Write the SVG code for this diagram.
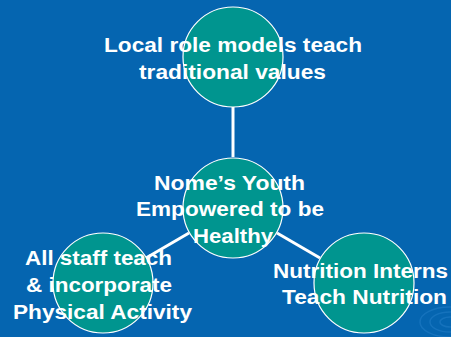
<svg xmlns="http://www.w3.org/2000/svg" width="451" height="337" viewBox="0 0 451 337">
<style>
.node{fill:#00958f;stroke:#ffffff;stroke-width:1.2}
.lbl{font-family:"Liberation Sans",Arial,sans-serif;font-weight:bold;font-size:20px;fill:#ffffff;text-anchor:middle}
.conn{stroke:#ffffff;stroke-width:3;fill:none}
.rip{fill:none;stroke:#1f7cc4;stroke-width:1.5;opacity:0.6}
</style>
<rect x="0" y="0" width="451" height="337" fill="#0565b0"/>
<g id="ripples">
<ellipse class="rip" cx="450" cy="322" rx="10" ry="5"/>
<ellipse class="rip" cx="450" cy="322" rx="20" ry="10"/>
<ellipse class="rip" cx="450" cy="322" rx="30" ry="15"/>
</g>
<g id="connectors">
<line class="conn" x1="233" y1="107" x2="233" y2="157"/>
<line class="conn" x1="189" y1="233" x2="146" y2="258"/>
<line class="conn" x1="277" y1="233" x2="320" y2="258"/>
</g>
<g id="top">
<circle class="node" cx="233" cy="57" r="50"/>
<text class="lbl" x="233" y="52" textLength="258" lengthAdjust="spacingAndGlyphs">Local role models teach</text>
<text class="lbl" x="232.5" y="79" textLength="187" lengthAdjust="spacingAndGlyphs">traditional values</text>
</g>
<g id="center">
<circle class="node" cx="233" cy="208" r="50"/>
<text class="lbl" x="229.5" y="190" textLength="151" lengthAdjust="spacingAndGlyphs">Nome’s Youth</text>
<text class="lbl" x="230" y="216" textLength="188" lengthAdjust="spacingAndGlyphs">Empowered to be</text>
<text class="lbl" x="233" y="243" textLength="80" lengthAdjust="spacingAndGlyphs">Healthy</text>
</g>
<g id="left">
<circle class="node" cx="103" cy="283" r="50"/>
<text class="lbl" x="98.5" y="265" textLength="147" lengthAdjust="spacingAndGlyphs">All staff teach</text>
<text class="lbl" x="99" y="292" textLength="146" lengthAdjust="spacingAndGlyphs">&amp; incorporate</text>
<text class="lbl" x="102.5" y="319" textLength="179" lengthAdjust="spacingAndGlyphs">Physical Activity</text>
</g>
<g id="right">
<circle class="node" cx="364" cy="283" r="50"/>
<text class="lbl" x="360.5" y="278" textLength="175" lengthAdjust="spacingAndGlyphs">Nutrition Interns</text>
<text class="lbl" x="364.5" y="304" textLength="165" lengthAdjust="spacingAndGlyphs">Teach Nutrition</text>
</g>
</svg>
